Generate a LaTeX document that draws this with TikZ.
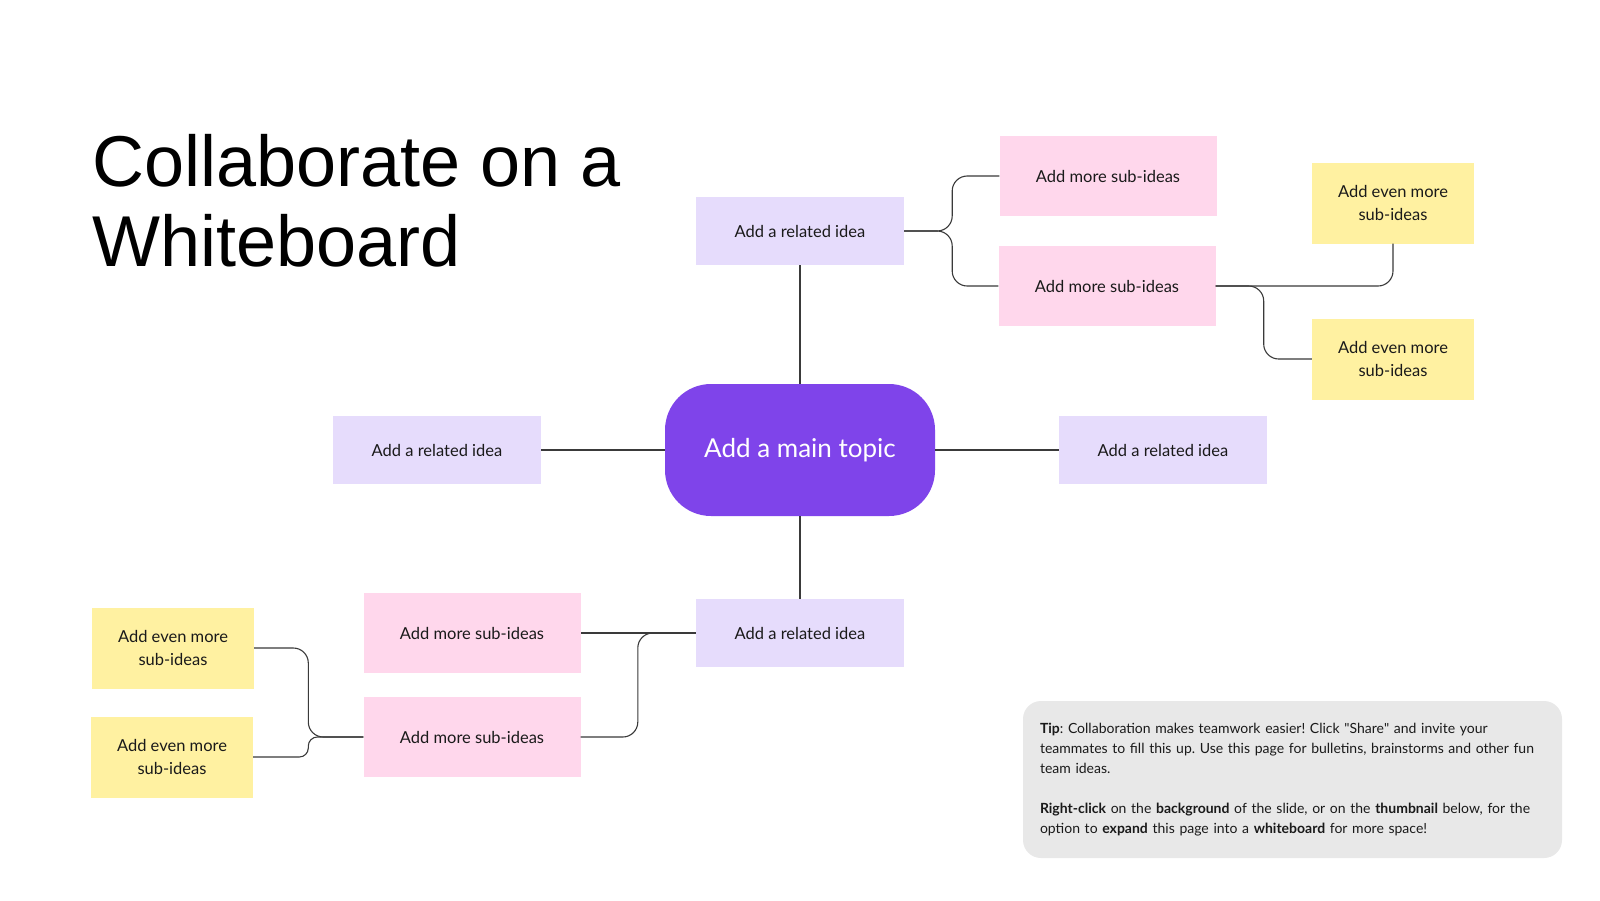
\documentclass[tikz,border=0pt]{standalone}
\usepackage{fontspec}
\setmainfont{Lato}
\newfontfamily\titlefont{Liberation Sans}
\definecolor{ideafill}{HTML}{E6DCFC}
\definecolor{subfill}{HTML}{FFD7EC}
\definecolor{evenfill}{HTML}{FFF1A1}
\definecolor{mainfill}{HTML}{7F44EA}
\definecolor{tipfill}{HTML}{E8E8E8}
\definecolor{linecol}{HTML}{3A3A3A}
\definecolor{txt}{HTML}{1A1A1A}
\frenchspacing

\begin{document}
\begin{tikzpicture}[x=1pt,y=-1pt,
 box/.style={inner sep=0pt,align=center,text=txt,font=\fontsize{16.5}{23.5}\selectfont},
 idea/.style={box,fill=ideafill,minimum width=208pt,minimum height=68pt},
 sub/.style={box,fill=subfill,minimum width=217pt,minimum height=80pt},
 even/.style={box,fill=evenfill,minimum width=162pt,minimum height=81pt},
 link/.style={draw=linecol,line width=1.1pt,rounded corners=15pt}]
\fill[white] (0,0) rectangle (1600,900);
\useasboundingbox (0,0) rectangle (1600,900);

\node[anchor=north west,inner sep=0pt,align=left,font=\titlefont\fontsize{72}{80}\selectfont] (title) at (92,134) {Collaborate on a\\Whiteboard};

\node[fill=mainfill,rounded corners=46pt,minimum width=270pt,minimum height=132pt,inner sep=0pt,text=white,font=\fontsize{26}{30}\selectfont] (main) at (800,450) {\raisebox{-2pt}{Add a main topic}};

\node[idea] (rel1) at (800,231) {Add a related idea};
\node[idea] (rel2) at (437,450) {Add a related idea};
\node[idea] (rel3) at (1163,450) {Add a related idea};
\node[idea] (rel4) at (800,633) {Add a related idea};

\node[sub] (sub1) at (1108,176) {Add more sub-ideas};
\node[sub] (sub2) at (1107,286) {Add more sub-ideas};
\node[sub] (sub3) at (472,633) {Add more sub-ideas};
\node[sub] (sub4) at (472,737) {Add more sub-ideas};

\node[even] (even1) at (1393,203) {Add even more\\sub-ideas};
\node[even] (even2) at (1393,359) {Add even more\\sub-ideas};
\node[even] (even3) at (173,648) {Add even more\\sub-ideas};
\node[even] (even4) at (172,757) {Add even more\\sub-ideas};

\draw[link] (rel1.south) -- (main.north);
\draw[link] (main.south) -- (rel4.north);
\draw[link] (rel2.east) -- (main.west);
\draw[link] (main.east) -- (rel3.west);
\draw[link] (rel1.east) -- ++(48,0) |- (sub1.west);
\draw[link] (rel1.east) -- ++(48,0) |- (sub2.west);
\draw[link] (sub2.east) -| (even1.south);
\draw[link] (sub2.east) -- ++(48,0) |- (even2.west);
\draw[link] (rel4.west) -- (sub3.east);
\draw[link] (rel4.west) -- ++(-58,0) |- (sub4.east);
\draw[link] (sub4.west) -- ++(-55,0) |- (even3.east);
\draw[link,rounded corners=9pt] (sub4.west) -- ++(-55,0) |- (even4.east);

\node[fill=tipfill,rounded corners=18pt,minimum width=539pt,minimum height=157pt,inner xsep=17pt,inner ysep=0pt,text width=505pt,align=left,text=txt,font=\fontsize{14}{20}\selectfont] (tip) at (1292.5,779.5) {\textbf{Tip}: Collaboration makes teamwork easier! Click \textquotedbl Share\textquotedbl{} and invite your\\teammates to fill this up. Use this page for bulletins, brainstorms and other fun\\team ideas.\\[20pt]\textbf{Right-click} on the \textbf{background} of the slide, or on the \textbf{thumbnail} below, for the\\option to \textbf{expand} this page into a \textbf{whiteboard} for more space!};
\end{tikzpicture}
\end{document}
